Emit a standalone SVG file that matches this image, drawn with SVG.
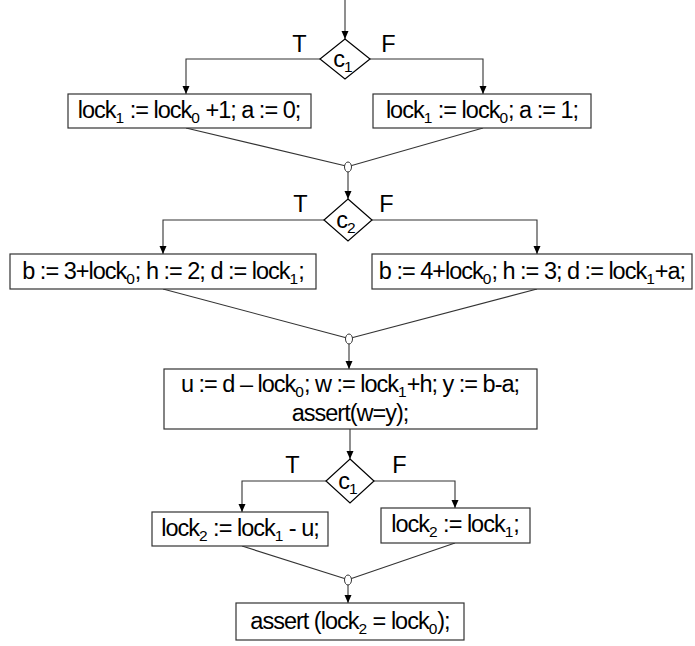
<svg xmlns="http://www.w3.org/2000/svg" width="695" height="646" viewBox="0 0 695 646">
<defs>
<marker id="ah" markerWidth="8" markerHeight="8" refX="8" refY="4" orient="auto" markerUnits="userSpaceOnUse">
<path d="M0,0.5 L8,4 L0,7.5 Z" fill="#000"/>
</marker>
<style>
.box{fill:#fff;stroke:#333;stroke-width:1.2}
.dia{fill:#fff;stroke:#000;stroke-width:1.2}
.t{font-family:"Liberation Sans",Arial,sans-serif;font-size:23.5px;letter-spacing:-1px;fill:#000;text-anchor:middle}
.s{font-size:15.5px;letter-spacing:0}
.c{fill:none;stroke:#333;stroke-width:1.1}
.a{fill:none;stroke:#333;stroke-width:1.1;marker-end:url(#ah)}
.j{fill:#fff;stroke:#333;stroke-width:1}
</style>
</defs>
<rect width="695" height="646" fill="#fff"/>
<g id="connectors">
<line class="a" x1="345" y1="0" x2="345" y2="39"/>
<polyline class="a" points="320,59 186,59 186,94"/>
<polyline class="a" points="370,59 483,59 483,94"/>
<line class="c" x1="186" y1="128" x2="346" y2="166"/>
<line class="c" x1="483" y1="128" x2="350" y2="166"/>
<line class="a" x1="348" y1="172" x2="348" y2="199"/>
<polyline class="a" points="324,220 163,220 163,254"/>
<polyline class="a" points="372,220 537,220 537,254"/>
<line class="c" x1="163" y1="289" x2="347" y2="338"/>
<line class="c" x1="537" y1="289" x2="351" y2="338"/>
<line class="a" x1="349" y1="344" x2="349" y2="369"/>
<line class="a" x1="350" y1="429" x2="350" y2="459"/>
<polyline class="a" points="326,481 242,481 242,512"/>
<polyline class="a" points="374,481 455,481 455,508"/>
<line class="c" x1="242" y1="546" x2="346" y2="579"/>
<line class="c" x1="455" y1="543" x2="350" y2="579"/>
<line class="a" x1="348" y1="585" x2="348" y2="603"/>
</g>
<g id="joins">
<ellipse class="j" cx="348" cy="167" rx="3.5" ry="5"/>
<ellipse class="j" cx="349" cy="339" rx="3.5" ry="5"/>
<ellipse class="j" cx="348" cy="580" rx="3.5" ry="5"/>
</g>
<g id="cond1">
<polygon class="dia" points="345,39 370,59 345,79 320,59"/>
<text class="t" x="343" y="67">c<tspan class="s" dy="5">1</tspan></text>
<text class="t" x="299" y="52">T</text>
<text class="t" x="388" y="52">F</text>
</g>
<g id="box1">
<rect class="box" x="68" y="94" width="243" height="34"/>
<text class="t" x="189" y="118">lock<tspan class="s" dy="5">1</tspan><tspan dy="-5"> := lock</tspan><tspan class="s" dy="5">0</tspan><tspan dy="-5"> +1; a := 0;</tspan></text>
</g>
<g id="box2">
<rect class="box" x="373" y="94" width="218" height="34"/>
<text class="t" x="482" y="118">lock<tspan class="s" dy="5">1</tspan><tspan dy="-5"> := lock</tspan><tspan class="s" dy="5">0</tspan><tspan dy="-5">; a := 1;</tspan></text>
</g>
<g id="cond2">
<polygon class="dia" points="348,199 372,220 348,241 324,220"/>
<text class="t" x="346" y="228">c<tspan class="s" dy="5">2</tspan></text>
<text class="t" x="300" y="212">T</text>
<text class="t" x="386" y="212">F</text>
</g>
<g id="box3">
<rect class="box" x="10" y="254" width="306" height="35"/>
<text class="t" x="163" y="279">b := 3+lock<tspan class="s" dy="5">0</tspan><tspan dy="-5">; h := 2; d := lock</tspan><tspan class="s" dy="5">1</tspan><tspan dy="-5">;</tspan></text>
</g>
<g id="box4">
<rect class="box" x="372" y="254" width="320" height="35"/>
<text class="t" x="532" y="279">b := 4+lock<tspan class="s" dy="5">0</tspan><tspan dy="-5">; h := 3; d := lock</tspan><tspan class="s" dy="5">1</tspan><tspan dy="-5">+a;</tspan></text>
</g>
<g id="box5">
<rect class="box" x="164" y="369" width="373" height="60"/>
<text class="t" x="350" y="392">u := d – lock<tspan class="s" dy="5">0</tspan><tspan dy="-5">; w := lock</tspan><tspan class="s" dy="5">1</tspan><tspan dy="-5">+h; y := b-a;</tspan></text>
<text class="t" x="350" y="421">assert(w=y);</text>
</g>
<g id="cond3">
<polygon class="dia" points="350,459 374,481 350,503 326,481"/>
<text class="t" x="348" y="489">c<tspan class="s" dy="5">1</tspan></text>
<text class="t" x="292" y="473">T</text>
<text class="t" x="399" y="473">F</text>
</g>
<g id="box6">
<rect class="box" x="152" y="512" width="176" height="34"/>
<text class="t" x="240" y="536">lock<tspan class="s" dy="5">2</tspan><tspan dy="-5"> := lock</tspan><tspan class="s" dy="5">1</tspan><tspan dy="-5"> - u;</tspan></text>
</g>
<g id="box7">
<rect class="box" x="381" y="508" width="149" height="35"/>
<text class="t" x="455" y="532">lock<tspan class="s" dy="5">2</tspan><tspan dy="-5"> := lock</tspan><tspan class="s" dy="5">1</tspan><tspan dy="-5">;</tspan></text>
</g>
<g id="box8">
<rect class="box" x="236" y="603" width="228" height="37"/>
<text class="t" x="350" y="629">assert (lock<tspan class="s" dy="5">2</tspan><tspan dy="-5"> = lock</tspan><tspan class="s" dy="5">0</tspan><tspan dy="-5">);</tspan></text>
</g>
</svg>
